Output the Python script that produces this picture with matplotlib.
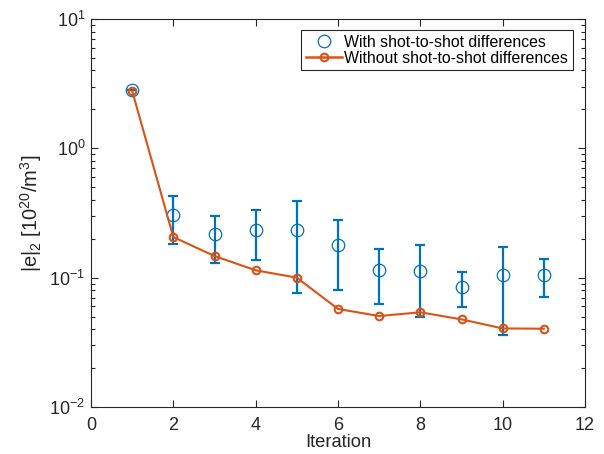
import numpy as np
import matplotlib
matplotlib.use("Agg")
import matplotlib.pyplot as plt
from matplotlib.lines import Line2D
from matplotlib.ticker import LogLocator, FixedLocator

plt.rcParams['font.family'] = ['Liberation Sans', 'DejaVu Sans']
plt.rcParams['mathtext.fontset'] = 'custom'
plt.rcParams['mathtext.rm'] = 'Liberation Sans'
plt.rcParams['mathtext.it'] = 'Liberation Sans'
plt.rcParams['mathtext.default'] = 'regular'
plt.rcParams['axes.unicode_minus'] = False

# Iteration numbers
iterations = [1, 2, 3, 4, 5, 6, 7, 8, 9, 10, 11]

# Error norm with shot-to-shot differences (mean, lower and upper bounds)
with_mean = [2.81, 0.305, 0.217, 0.235, 0.235, 0.180, 0.115, 0.1125, 0.0852, 0.1047, 0.1047]
with_low = [2.81, 0.182, 0.1306, 0.137, 0.0764, 0.0798, 0.0625, 0.0493, 0.0593, 0.036, 0.0708]
with_high = [2.81, 0.425, 0.300, 0.333, 0.392, 0.279, 0.166, 0.178, 0.110, 0.1716, 0.1386]

# Error norm without shot-to-shot differences
without = [2.78, 0.206, 0.147, 0.114, 0.100, 0.0573, 0.0505, 0.054, 0.0476, 0.0405, 0.0403]

x_ticks = [0, 2, 4, 6, 8, 10, 12]

blue = '#0072BD'
orange = '#D95319'
ink = '#262626'

fig = plt.figure(figsize=(6.04, 4.54), dpi=100)
ax = fig.add_axes([91/604, 1-407/454, (585-91)/604, (407-19)/454])

mean = np.array(with_mean)
yerr = np.vstack([mean - np.array(with_low), np.array(with_high) - mean])

ax.errorbar(iterations, with_mean, yerr=yerr, fmt='none', ecolor=blue,
            elinewidth=1.6, capsize=3.6, capthick=1.6, zorder=2)
ax.plot(iterations, with_mean, 'o', color=blue, markerfacecolor='none',
        markersize=9, markeredgewidth=0.9, zorder=3)
ax.plot(iterations, without, '-o', color=orange, linewidth=1.5,
        markerfacecolor='none', markersize=5.5, markeredgewidth=1.5, zorder=4)

ax.set_yscale('log')
ax.set_xlim(0, 12)
ax.set_ylim(1e-2, 1e1)
ax.xaxis.set_major_locator(FixedLocator(x_ticks))
ax.yaxis.set_major_locator(LogLocator(base=10, numticks=10))
ax.yaxis.set_minor_locator(LogLocator(base=10, subs=np.arange(2, 10), numticks=10))

ax.tick_params(which='both', direction='in', top=True, right=True,
               colors=ink, labelcolor=ink, width=0.8)
ax.tick_params(which='major', length=5, labelsize=13)
ax.tick_params(which='minor', length=3)
ax.tick_params(axis='x', which='major', pad=7)
ax.tick_params(axis='y', which='major', pad=4)
for s in ax.spines.values():
    s.set_color(ink)
    s.set_linewidth(0.8)

ax.set_xlabel('Iteration', fontsize=13.2, color=ink, labelpad=0)
ax.set_ylabel(r'|e|$_2$ [10$^{20}$/m$^3$]', fontsize=14.5, color=ink, labelpad=4)

handles = [
    Line2D([], [], linestyle='none', marker='o', color=blue, markerfacecolor='none',
           markersize=9, markeredgewidth=0.9),
    Line2D([], [], linestyle='-', marker='o', color=orange, linewidth=1.8,
           markerfacecolor='none', markersize=5.5, markeredgewidth=1.5),
]
labels = ['With shot-to-shot differences', 'Without shot-to-shot differences']
leg = ax.legend(handles, labels, loc='upper right',
                bbox_to_anchor=(572.7/604, 1-30/454), bbox_transform=fig.transFigure,
                borderaxespad=0, fontsize=11.4, fancybox=False, framealpha=1,
                edgecolor=ink, handlelength=2.3, handletextpad=0.12,
                borderpad=0.3, labelspacing=0.05)
leg.get_frame().set_linewidth(0.8)

fig.savefig('out.png', dpi=100)
